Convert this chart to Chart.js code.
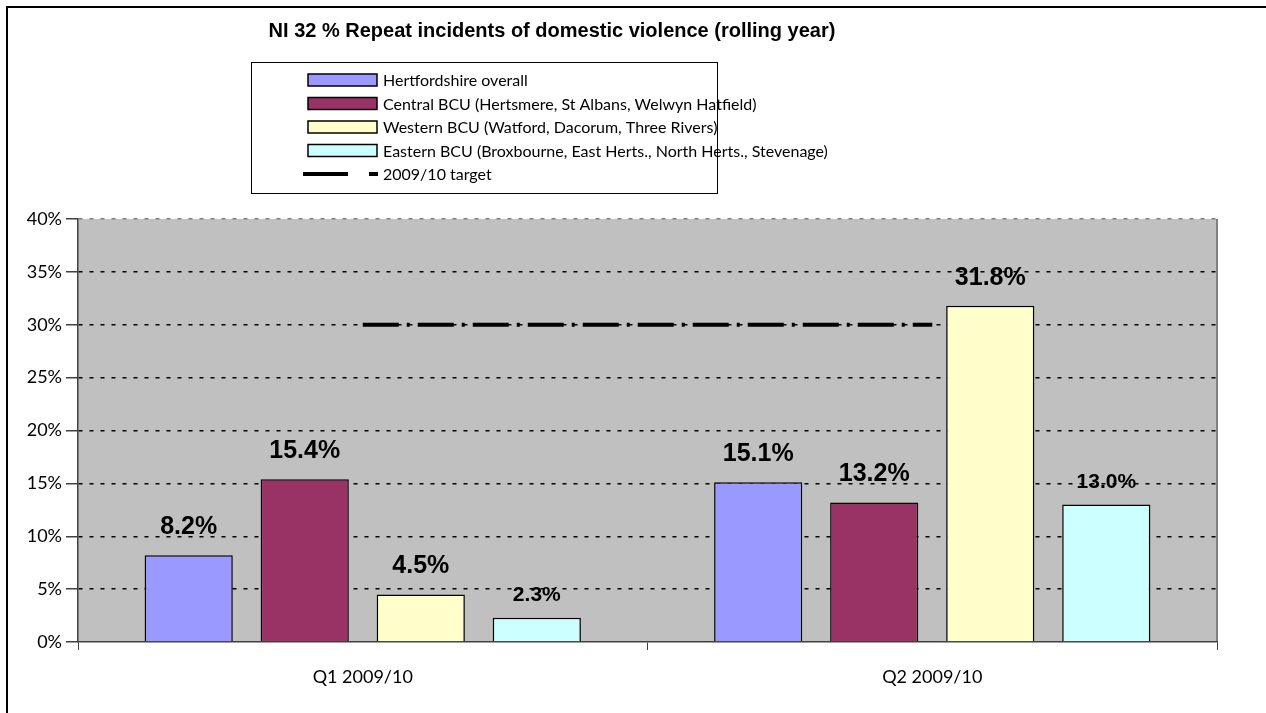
<!DOCTYPE html>
<html>
<head>
<meta charset="utf-8">
<script src="https://cdn.jsdelivr.net/npm/chart.js@4"></script>
<style>
  html, body { margin: 0; padding: 0; background: #fff; }
  #wrap { width: 1266px; height: 713px; }
</style>
</head>
<body>
<div id="wrap"><canvas id="chart"></canvas></div>
<script>
const categories = ["Q1 2009/10", "Q2 2009/10"];
const seriesNames = [
  "Hertfordshire overall",
  "Central BCU (Hertsmere, St Albans, Welwyn Hatfield)",
  "Western BCU (Watford, Dacorum, Three Rivers)",
  "Eastern BCU (Broxbourne, East Herts., North Herts., Stevenage)"
];
const hertsOverall = [8.2, 15.1];
const centralBCU = [15.4, 13.2];
const westernBCU = [4.5, 31.8];
const easternBCU = [2.3, 13.0];
const targetName = "2009/10 target";
const targetValues = [30, 30];
const yTicks = [0, 5, 10, 15, 20, 25, 30, 35, 40];

const titleText = "NI 32 % Repeat incidents of domestic violence (rolling year)";
const barColors = ["#9999FF", "#993366", "#FFFFCC", "#CCFFFF"];
const labelSizes = [25, 25, 25, 21];
const labelGaps = [28, 28, 28, 22];

const seriesValues = [hertsOverall, centralBCU, westernBCU, easternBCU];

const datasets = seriesValues.map((vals, i) => ({
  type: "bar",
  label: seriesNames[i],
  data: vals,
  backgroundColor: barColors[i],
  borderColor: "#000",
  borderWidth: 1.5,
  barPercentage: 0.76,
  categoryPercentage: 0.815,
  order: 2
}));

datasets.push({
  type: "line",
  label: targetName,
  data: targetValues,
  borderColor: "#000",
  borderWidth: 4,
  borderDash: [36, 8, 3, 8],
  pointRadius: 0,
  fill: false,
  order: 1
});

const decorPlugin = {
  id: "decor",
  beforeDraw(chart) {
    const ctx = chart.ctx;
    const a = chart.chartArea;
    ctx.save();
    ctx.fillStyle = "#C0C0C0";
    ctx.fillRect(a.left, a.top, a.right - a.left, a.bottom - a.top);
    // right edge of plot area
    ctx.strokeStyle = "#808080";
    ctx.lineWidth = 2;
    ctx.beginPath();
    ctx.moveTo(a.right, a.top);
    ctx.lineTo(a.right, a.bottom);
    ctx.stroke();
    ctx.restore();
  },
  afterDraw(chart) {
    const ctx = chart.ctx;
    ctx.save();

    // outer frame
    ctx.strokeStyle = "#000";
    ctx.lineWidth = 2;
    ctx.beginPath();
    ctx.moveTo(7, 713);
    ctx.lineTo(7, 7);
    ctx.lineTo(1266, 7);
    ctx.stroke();

    // title
    ctx.fillStyle = "#000";
    ctx.font = "bold 20px 'Liberation Sans', Arial, sans-serif";
    ctx.textAlign = "center";
    ctx.textBaseline = "middle";
    ctx.fillText(titleText, 552, 31);

    // legend
    ctx.lineWidth = 1;
    ctx.strokeRect(251.5, 62.5, 466, 131);
    ctx.font = "16px Lato, 'Open Sans', sans-serif";
    ctx.textAlign = "left";
    const rowY = [80, 103.5, 127, 150.5, 174];
    chart.data.datasets.forEach((ds, i) => {
      const y = rowY[i];
      if (ds.type === "bar") {
        ctx.fillStyle = ds.backgroundColor;
        ctx.fillRect(308, y - 6, 69, 12);
        ctx.strokeStyle = "#000";
        ctx.lineWidth = 1.5;
        ctx.strokeRect(308, y - 6, 69, 12);
      } else {
        ctx.fillStyle = "#000";
        ctx.fillRect(303, y - 2, 45, 4);
        ctx.fillRect(369, y - 2, 9, 4);
      }
      ctx.fillStyle = "#000";
      ctx.fillText(ds.label, 383, y + 1);
    });

    // data labels
    ctx.textAlign = "center";
    chart.data.datasets.forEach((ds, i) => {
      if (ds.type !== "bar") return;
      const meta = chart.getDatasetMeta(i);
      ctx.font = "bold " + labelSizes[i] + "px 'Liberation Sans', Arial, sans-serif";
      meta.data.forEach((bar, j) => {
        ctx.fillText(ds.data[j].toFixed(1) + "%", bar.x, bar.y - labelGaps[i]);
      });
    });
    ctx.restore();
  }
};

new Chart(document.getElementById("chart"), {
  data: { labels: categories, datasets: datasets },
  options: {
    responsive: true,
    maintainAspectRatio: false,
    animation: false,
    layout: { padding: { top: 219, right: 49, left: 0, bottom: 0 } },
    plugins: {
      legend: { display: false },
      title: { display: false },
      tooltip: { enabled: false }
    },
    scales: {
      x: {
        offset: true,
        grid: {
          offset: true,
          drawOnChartArea: false,
          drawTicks: true,
          tickLength: 8,
          color: "#404040"
        },
        border: { color: "#404040", width: 1.5 },
        ticks: {
          color: "#000",
          padding: 16,
          font: { family: "Lato", size: 18 }
        },
        afterFit: s => { s.height = 71; }
      },
      y: {
        min: 0,
        max: 40,
        afterBuildTicks: s => { s.ticks = yTicks.map(v => ({ value: v })); },
        grid: {
          color: ctx => (ctx.tick && ctx.tick.value === 40 ? "#808080" : (ctx.tick && ctx.tick.value === 0 ? "rgba(0,0,0,0)" : "#000")),
          lineWidth: 1.5,
          tickLength: 12,
          tickColor: "#404040",
          tickBorderDash: []
        },
        border: { color: "#404040", width: 1.5, dash: [4, 7] },
        ticks: {
          color: "#000",
          padding: 4,
          font: { family: "Lato", size: 18 },
          callback: v => v + "%"
        },
        afterFit: s => { s.width = 78; }
      }
    }
  },
  plugins: [decorPlugin]
});
</script>
</body>
</html>
